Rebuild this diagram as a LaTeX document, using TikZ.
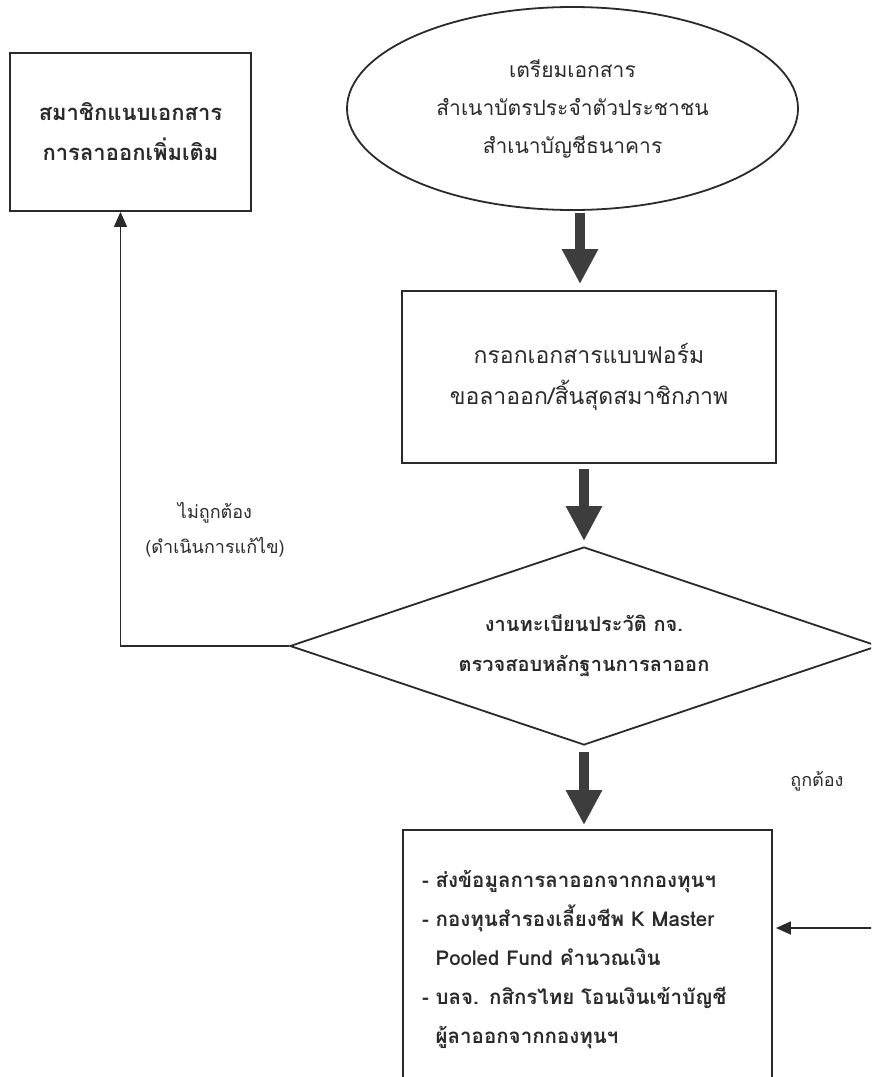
\documentclass[tikz,border=0pt]{standalone}
\usepackage{fontspec}
\newfontfamily\thaifont[Script=Thai]{Loma}
\usetikzlibrary{shapes.geometric, arrows.meta, calc}
\definecolor{inkgray}{HTML}{2A2A2A}
\definecolor{arrowgray}{HTML}{3D3D3D}

\begin{document}
\begin{tikzpicture}[x=1pt, y=-1pt,
  box/.style={rectangle, draw=inkgray, line width=1.8pt, inner sep=0pt, align=center, text=inkgray, font=\thaifont\fontsize{23}{41}\selectfont},
  boldbox/.style={box, font=\thaifont\bfseries\fontsize{22}{40}\selectfont},
  oval/.style={ellipse, draw=inkgray, line width=1.8pt, inner sep=0pt, align=center, text=inkgray, minimum width=451pt, minimum height=203pt, font=\thaifont\fontsize{21}{38}\selectfont},
  decision/.style={diamond, aspect=2.97, draw=inkgray, line width=1.8pt, inner sep=0pt, align=center, text=inkgray, minimum width=588pt, minimum height=198pt, font=\thaifont\bfseries\fontsize{20}{40}\selectfont},
  note/.style={align=center, text=inkgray, font=\thaifont\fontsize{18}{35}\selectfont},
  bigarrow/.style={-{Triangle[length=35pt, width=34pt]}, line width=10pt, draw=arrowgray},
  thinarrow/.style={-{Triangle[length=15pt, width=13pt]}, line width=1.5pt, draw=inkgray}
]
  \clip (0,0) rectangle (871,1077);

  \node[oval] (prep) at (572.5,108.5) {เตรียมเอกสาร\\สำเนาบัตรประจำตัวประชาชน\\สำเนาบัญชีธนาคาร};
  \node[box, minimum width=374pt, minimum height=172pt] (fill) at (589,377) {กรอกเอกสารแบบฟอร์ม\\ขอลาออก/สิ้นสุดสมาชิกภาพ};
  \node[decision] (check) at (584,646) {งานทะเบียนประวัติ กจ.\\ตรวจสอบหลักฐานการลาออก};
  \node[boldbox, minimum width=241pt, minimum height=158pt] (attach) at (130.5,132) {สมาชิกแนบเอกสาร\\การลาออกเพิ่มเติม};
  \node[boldbox, align=left, text width=331pt, minimum width=369pt, minimum height=260pt, font=\thaifont\bfseries\fontsize{20.5}{39}\selectfont] (pay) at (587.5,960) {-~ส่งข้อมูลการลาออกจากกองทุนฯ\\-~กองทุนสำรองเลี้ยงชีพ K Master\\\phantom{-~}Pooled Fund คำนวณเงิน\\-~บลจ. กสิกรไทย โอนเงินเข้าบัญชี\\\phantom{-~}ผู้ลาออกจากกองทุนฯ};

  \node[note] (wrong) at (215,530) {ไม่ถูกต้อง\\(ดำเนินการแก้ไข)};
  \node[note] (right) at (817,781) {ถูกต้อง};

  \draw[bigarrow, shorten <=2pt, shorten >=6pt] ([xshift=7.5pt]prep.south) -- ([xshift=7.5pt]prep.south |- fill.north);
  \draw[bigarrow, shorten <=5pt, shorten >=5pt] (fill.south -| check.north) -- (check.north);
  \draw[bigarrow, shorten <=6pt, shorten >=4pt] (check.south) -- (check.south |- pay.north);
  \draw[thinarrow] (check.west) -| ([xshift=-10pt]attach.south);
  \draw[thinarrow, shorten >=3pt] (check.east) -- ++(12,0) |- ([yshift=32pt]pay.east);
\end{tikzpicture}
\end{document}
